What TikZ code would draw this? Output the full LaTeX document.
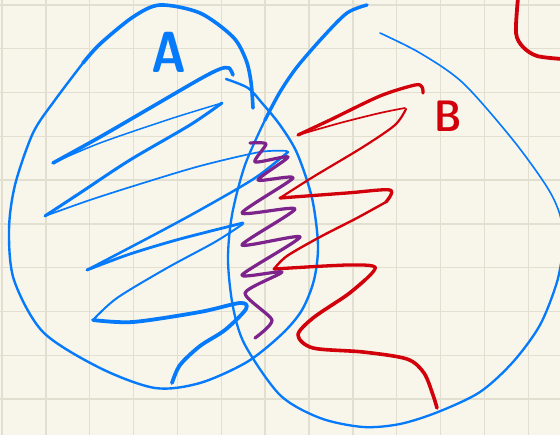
\documentclass[tikz,border=0pt]{standalone}
\definecolor{paper}{RGB}{248,245,234}
\definecolor{gridc}{RGB}{226,223,209}
\definecolor{ablue}{RGB}{5,122,250}
\definecolor{bred}{RGB}{210,0,10}
\definecolor{mpurple}{RGB}{125,35,140}
\tikzset{
  pen/.style={line cap=round, line join=round},
  bluepen/.style={pen, draw=ablue},
  redpen/.style={pen, draw=bred},
  purplepen/.style={pen, draw=mpurple, line width=3.2pt},
  gridline/.style={draw=gridc, line width=1.4pt},
  sm/.style={smooth, tension=0.5},
}
\begin{document}
\begin{tikzpicture}[x=1pt, y=-1pt]
\useasboundingbox (0,0) rectangle (560,435);
\fill[paper] (0,0) rectangle (560,435);
\clip (0,0) rectangle (560,435);
% grid
\foreach \i in {0,...,12} \draw[gridline] (2+\i*43.85,0) -- (2+\i*43.85,435);
\foreach \j in {0,...,9} \draw[gridline] (0,5+\j*43.8) -- (560,5+\j*43.8);

% circle A
\draw[bluepen, line width=3.6pt] plot[sm] coordinates {(253,108) (251,82) (246,60) (233,37) (200,13) (160,5) (133,17) (100,44) (83,63)};
\draw[bluepen, line width=2.4pt] plot[sm] coordinates {(83,63) (55,100) (33,133) (15,185) (9,230) (14,280) (43,332) (100,368) (155,388) (200,383) (247,362) (282,334) (302,310) (314,280) (318,245) (312,198) (297,153) (280,125) (262,103) (248,88) (226,79)};

% circle B
\draw[bluepen, line width=3.4pt] plot[sm] coordinates {(367,5) (347,13) (323,37) (297,67) (280,92) (265,120)};
\draw[bluepen, line width=2.3pt] plot[sm] coordinates {(265,120) (245,165) (232,215) (228,260) (233,307) (245,345) (280,395) (320,418) (363,427) (400,424) (438,412) (480,392) (513,362) (540,325) (557,282) (564,245)};
\draw[bluepen, line width=1.6pt] plot[sm] coordinates {(564,245) (560,215) (547,187) (513,140) (463,83) (420,53) (380,33)};

% blue zigzag
\draw[bluepen, line width=3.6pt] plot[sm] coordinates {(53,163) (100,137) (150,108) (200,79) (220,69) (229,68) (233,75)};
\draw[bluepen, line width=1.5pt] plot[sm] coordinates {(53,163) (100,143) (170,119) (222,103)};
\draw[bluepen, line width=3pt] plot[sm] coordinates {(222,103) (190,125) (130,160) (80,193) (45,216)};
\draw[bluepen, line width=1.7pt] plot[sm] coordinates {(45,216) (90,200) (140,184) (200,166) (260,152) (287,151)};
\draw[bluepen, line width=2.5pt] plot[sm] coordinates {(288,152) (255,178) (200,210) (150,237) (87,270)};
\draw[bluepen, line width=2.8pt] plot[sm] coordinates {(87,270) (130,254) (180,239) (243,223)};
\draw[bluepen, line width=2pt] plot[sm] coordinates {(243,224) (215,242) (167,268) (117,298) (93,320)};
\draw[bluepen, line width=3.8pt] plot[sm] coordinates {(93,320) (133,322) (200,312) (240,303) (246,309) (225,330) (200,346) (180,365) (172,383)};

% red zigzag
\draw[redpen, line width=3.3pt] plot[sm] coordinates {(298,135) (330,120) (380,96) (415,85) (422,87) (423,93)};
\draw[redpen, line width=1.7pt] plot[sm] coordinates {(298,135) (340,123) (380,113) (405,108)};
\draw[redpen, line width=2.2pt] plot[sm] coordinates {(406,109) (395,125) (363,147) (313,177) (280,198)};
\draw[redpen, line width=3.3pt] plot[sm] coordinates {(280,198) (347,193) (390,190) (386,202)};
\draw[redpen, line width=2.4pt] plot[sm] coordinates {(386,202) (357,218) (320,237) (287,256) (274,269)};
\draw[redpen, line width=3.3pt] plot[sm] coordinates {(274,269) (347,265) (375,267) (365,280)};
\draw[redpen, line width=3.6pt] plot[sm] coordinates {(365,280) (347,295) (313,318) (298,335) (313,348) (363,352) (407,359) (424,373) (433,395) (437,408)};
% red corner top right
\draw[redpen, line width=3.8pt] plot[sm] coordinates {(518,-2) (516,33) (523,47) (537,56) (562,59)};

% purple zigzag
\draw[purplepen] plot[smooth, tension=0.4] coordinates {(250,143) (266,144) (255,162) (288,157) (258,180) (293,178) (242,213) (295,209) (242,245) (300,237) (242,275) (282,272) (245,293) (272,320) (255,338)};

% labels
\node[text=ablue, font=\sffamily\bfseries\fontsize{58}{58}\selectfont, inner sep=0pt, xscale=0.82] (labA) at (169,52) {A};
\node[text=bred, font=\sffamily\bfseries\fontsize{44}{44}\selectfont, inner sep=0pt, xscale=0.85] (labB) at (448,116) {B};
\end{tikzpicture}
\end{document}
